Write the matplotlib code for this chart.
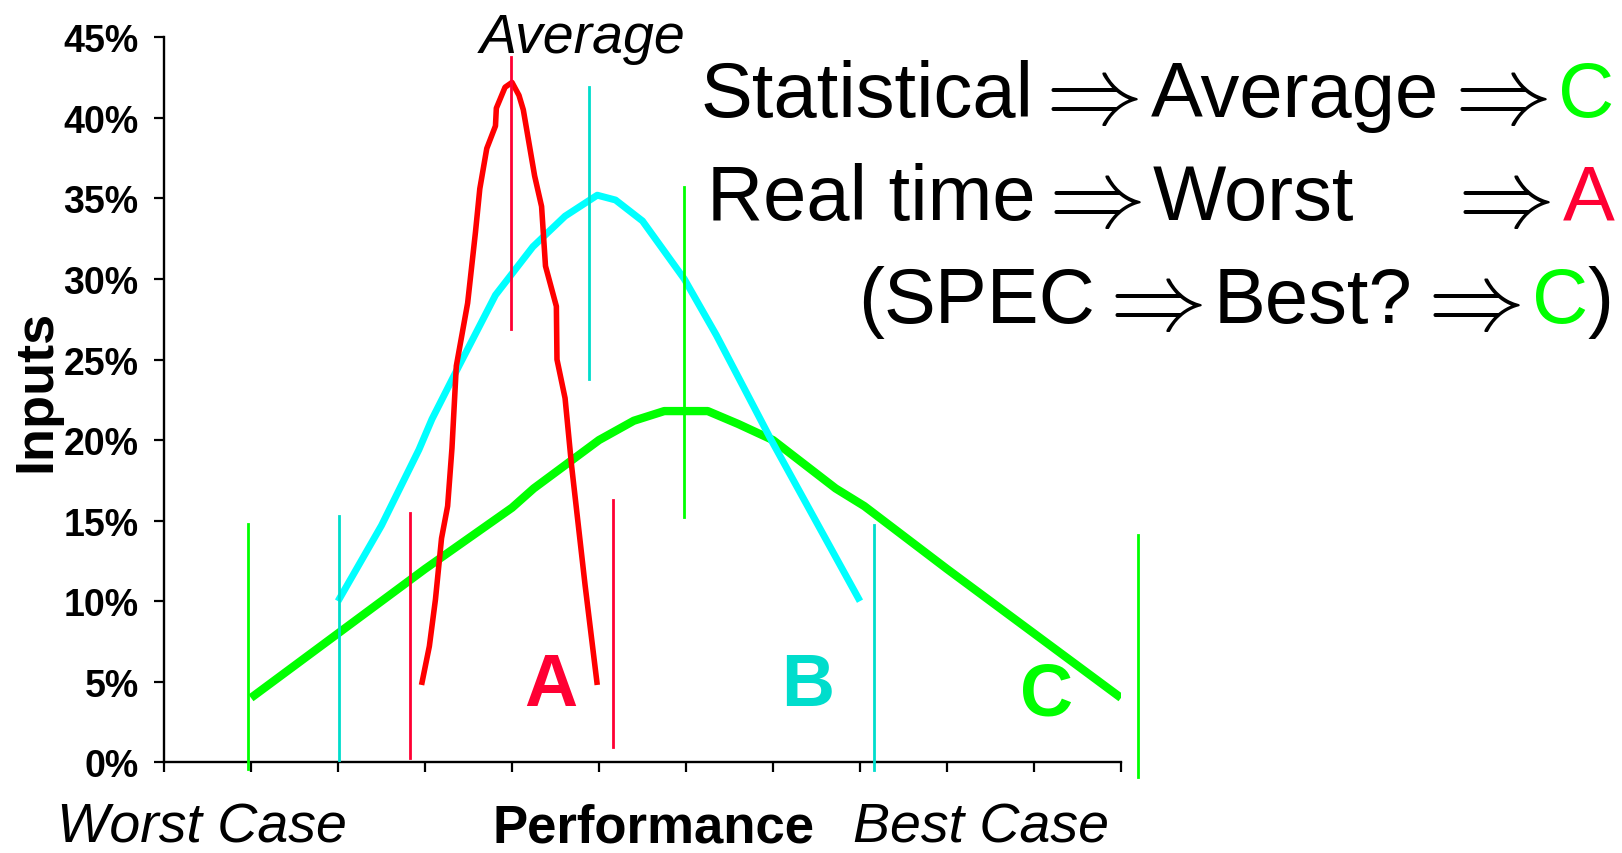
import matplotlib.pyplot as plt

plt.rcParams['font.family'] = ['Liberation Sans', 'DejaVu Sans']

# --- data ---
# x in category-tick units (ticks 0..11), y in percent
tick_pos = list(range(12))
y_ticks = [0, 5, 10, 15, 20, 25, 30, 35, 40, 45]
y_labels = ['0%', '5%', '10%', '15%', '20%', '25%', '30%', '35%', '40%', '45%']

# curve A (red, narrow)
a_x = [2.96, 3.05, 3.12, 3.19, 3.26, 3.31, 3.36, 3.49, 3.58, 3.63, 3.71, 3.81, 3.82,
       3.92, 4.0, 4.08, 4.13, 4.26, 4.34, 4.385, 4.51, 4.517, 4.61, 4.685, 4.84, 4.98]
a_y = [4.8, 7.2, 10.1, 13.9, 15.9, 19.5, 24.6, 28.5, 32.9, 35.6, 38.1, 39.5, 40.6,
       41.9, 42.2, 41.4, 40.5, 36.4, 34.5, 30.8, 28.3, 25.0, 22.6, 18.4, 11.0, 4.8]

# curve B (cyan)
b_x = [2.0, 2.5, 2.93, 3.08, 3.39, 3.81, 4.24, 4.61, 4.98, 5.19, 5.5, 5.98, 6.35, 6.98, 8.0]
b_y = [10, 14.7, 19.4, 21.3, 24.6, 29.0, 32.0, 33.9, 35.2, 34.9, 33.6, 30.0, 26.5, 20.0, 10]

# curve C (green, wide)
c_x = [1, 2, 3, 4, 4.25, 4.5, 5, 5.4, 5.75, 6.25, 6.6, 7, 7.72, 8.05, 9, 10, 11]
c_y = [4, 8, 12, 15.8, 17.0, 18.0, 20, 21.2, 21.8, 21.8, 21.0, 20, 17.0, 15.9, 12, 8, 4]

# vertical markers (range limits and averages)
mark_x = [0.97, 2.01, 2.83, 3.99, 4.88, 5.16, 5.98, 8.16, 11.2]
mark_top = [14.8, 15.3, 15.5, 43.8, 41.9, 16.3, 35.7, 14.7, 14.1]
mark_bottom = [-0.4, 0.15, 0.27, 26.9, 23.8, 0.95, 15.2, -0.45, -0.9]
mark_series = ['C', 'B', 'A', 'A', 'B', 'A', 'C', 'B', 'C']

line_col = {'A': '#FF0000', 'B': '#00FFFF', 'C': '#00FF00'}
mark_col = {'A': '#FF0033', 'B': '#00DDCC', 'C': '#00FF00'}

W, H = 1622, 854
fig = plt.figure(figsize=(W / 100, H / 100), dpi=100)
ax = fig.add_axes([164 / W, 1 - 763.3 / H, (1121 - 164) / W, (763.3 - 38.3) / H])

ax.plot(c_x, c_y, color=line_col['C'], lw=6.0, solid_capstyle='butt', zorder=2)
ax.plot(b_x, b_y, color=line_col['B'], lw=5.0, solid_capstyle='butt', zorder=3)
ax.plot(a_x, a_y, color=line_col['A'], lw=4.0, solid_capstyle='butt', zorder=4)

for x, t, b, s in zip(mark_x, mark_top, mark_bottom, mark_series):
    ax.plot([x, x], [b, t], color=mark_col[s], lw=2.0, clip_on=False, zorder=5)

ax.set_xlim(0, 11)
ax.set_ylim(0, 45)
ax.set_xticks(tick_pos)
ax.set_xticklabels([])
ax.set_yticks(y_ticks)
ax.set_yticklabels(y_labels, fontsize=27, fontweight='bold')
ax.tick_params(direction='out', length=7.2, width=1.6, pad=11, colors='black')
for side in ['top', 'right']:
    ax.spines[side].set_visible(False)
for side in ['left', 'bottom']:
    ax.spines[side].set_linewidth(1.7)

# letters on the curves
ax.text(4.45, 3.56, 'A', color=mark_col['A'], fontsize=53, fontweight='bold',
        ha='center', va='baseline')
ax.text(7.40, 3.56, 'B', color=mark_col['B'], fontsize=53, fontweight='bold',
        ha='center', va='baseline')
ax.text(10.15, 2.94, 'C', color=mark_col['C'], fontsize=53, fontweight='bold',
        ha='center', va='baseline')
ax.text(3.63, 44.1, 'Average', fontsize=40, style='italic', ha='left', va='baseline',
        clip_on=False)

# axis captions
fig.text(57 / W, 1 - 843 / H, 'Worst Case', fontsize=40, style='italic', va='baseline')
fig.text(492 / W, 1 - 843 / H, 'Performance', fontsize=38, fontweight='bold', va='baseline')
fig.text(853 / W, 1 - 843 / H, 'Best Case', fontsize=40, style='italic', va='baseline')
fig.text(36 / W, 1 - 391 / H, 'Inputs', fontsize=39, fontweight='bold', rotation=90,
         ha='center', va='center')


def put(s, x, y, color='black'):
    fig.text(x / W, 1 - y / H, s, color=color, fontsize=56, ha='left', va='baseline')


def put_arrow(x, y):
    # double arrow like the Symbol-font one in the slide, a bit larger than the words
    fig.text((x - 9) / W, 1 - (y + 7) / H, r'$\Rightarrow$', fontsize=70, ha='center',
             va='baseline', math_fontfamily='cm')


# line 1
put('Statistical', 700, 116.7)
put_arrow(1092.6, 116.7)
put('Average', 1151, 116.7)
put_arrow(1501, 116.7)
put('C', 1558, 116.7, color='#00FF00')
# line 2
put('Real time', 707, 220)
put_arrow(1095, 220)
put('Worst', 1153, 220)
put_arrow(1504, 220)
put('A', 1563, 220, color='#FF0033')
# line 3
put('(', 858, 323.3)
put('SPEC', 883, 323.3)
put_arrow(1156, 323.3)
put('Best?', 1214, 323.3)
put_arrow(1474.6, 323.3)
put('C', 1532, 323.3, color='#00FF00')
put(')', 1588, 323.3)

fig.savefig('out.png', dpi=100)
